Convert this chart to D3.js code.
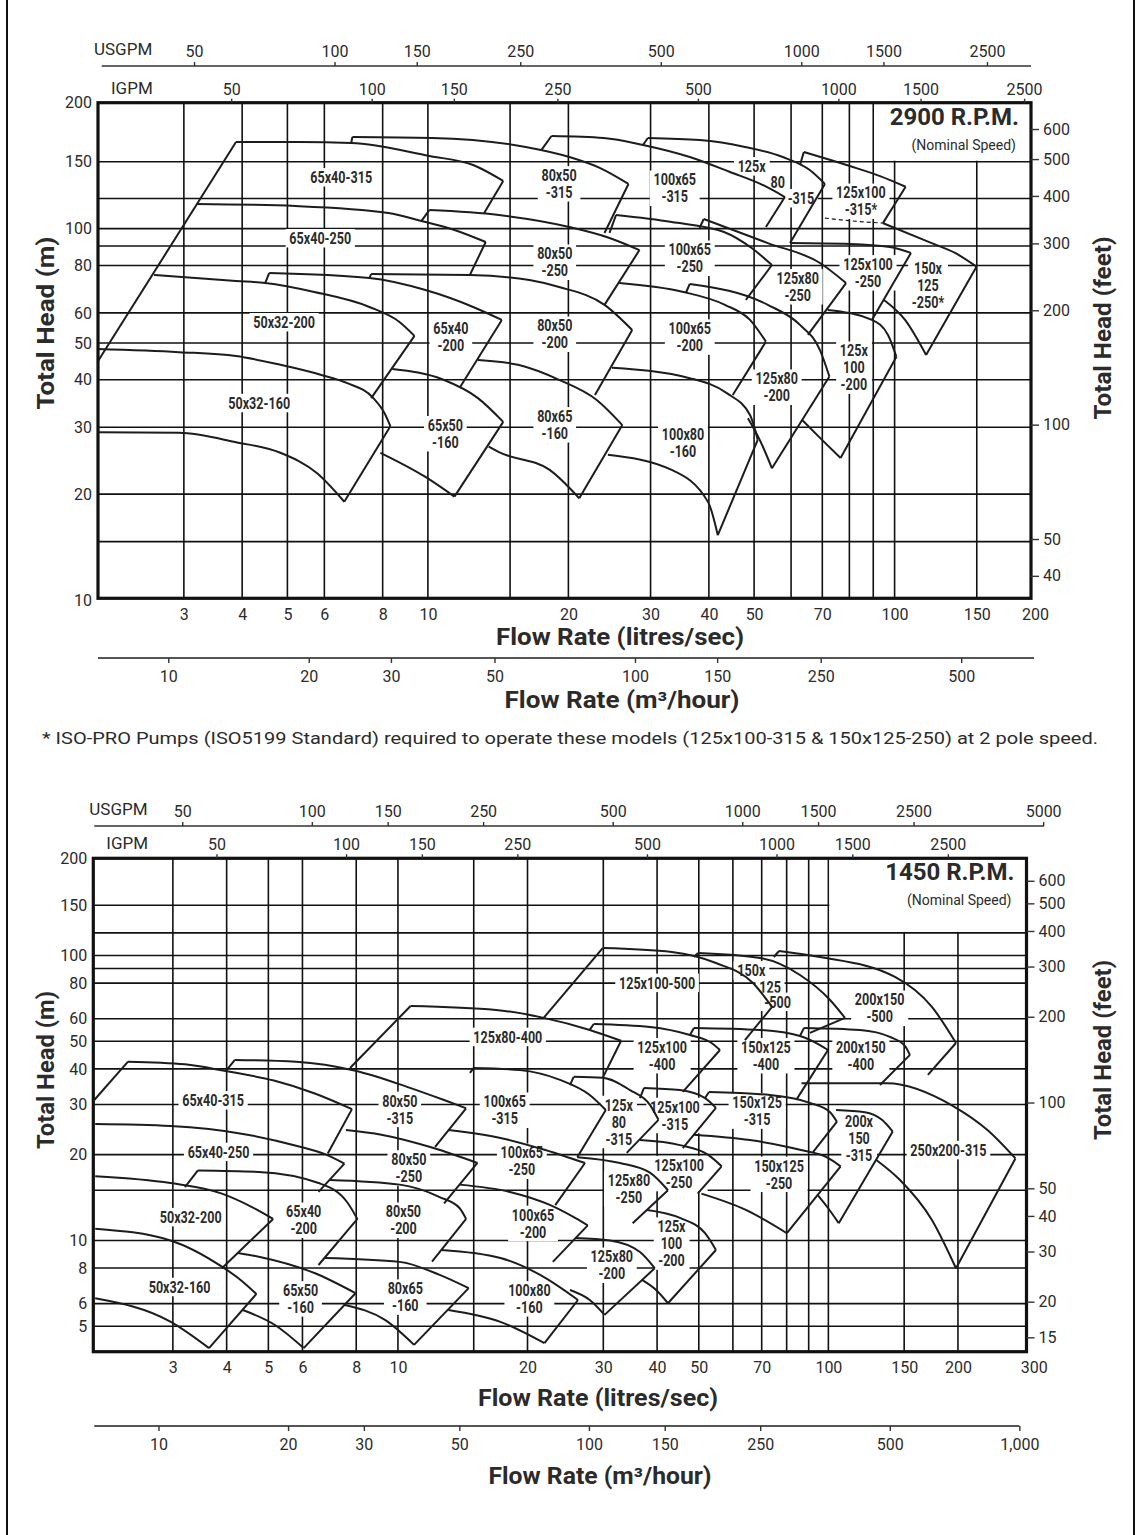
<!DOCTYPE html>
<html>
<head>
<meta charset="utf-8">
<script src="https://cdn.jsdelivr.net/npm/d3@7/dist/d3.min.js"></script>
<style>
  body { margin: 0; background: #fff; }
  svg text { font-family: Roboto, "Noto Sans", sans-serif; fill: #2b2b2b; }
</style>
</head>
<body>
<svg id="sheet" width="1142" height="1535"></svg>
<script>
// unit conversions to litres/sec and metres
const USGPM = 0.06309, IGPM = 0.07577, M3H = 1 / 3.6, FT = 0.3048;

// ---- axis values ----
let lsTicks1 = [3, 4, 5, 6, 8, 10, 20, 30, 40, 50, 70, 100, 150, 200];
let lsGrid1 = [3, 4, 5, 6, 8, 10, 15, 20, 30, 40, 50, 60, 70, 80, 90, 100, 150];
let lsTicks2 = [3, 4, 5, 6, 8, 10, 20, 30, 40, 50, 70, 100, 150, 200, 300];
let lsGrid2 = [3, 4, 5, 6, 8, 10, 15, 20, 30, 40, 50, 60, 70, 80, 90, 100, 150, 200];
let headTicks1 = [150, 100, 80, 60, 50, 40, 30, 20];
let headGrid1 = [150, 120, 100, 90, 80, 60, 50, 40, 30, 20, 15];
let headTicks2 = [150, 100, 80, 60, 50, 40, 30, 20, 10, 8, 6, 5];
let headGrid2 = [150, 120, 100, 90, 80, 60, 50, 40, 30, 20, 15, 10, 8, 6, 5];
let feetTicks1 = [600, 500, 400, 300, 200, 100, 50, 40];
let feetTicks2 = [600, 500, 400, 300, 200, 100, 50, 40, 30, 20, 15];
let usgpmTicks1 = [50, 100, 150, 250, 500, 1000, 1500, 2500];
let usgpmTicks2 = [50, 100, 150, 250, 500, 1000, 1500, 2500, 5000];
let igpmTicks = [50, 100, 150, 250, 500, 1000, 1500, 2500];
let m3hTicks1 = [10, 20, 30, 50, 100, 150, 250, 500];
let m3hTicks2 = [10, 20, 30, 50, 100, 150, 250, 500, 1000];

// ---- 2900 rpm pump envelopes: [litres/sec, metres] ----
let edgeLines1 = [
    [[1.96, 44.6], [3.88, 169]]
];
let pumps1 = [
    // 50x32-160
    { top: [[1.96, 48.2], [2.93, 47.3], [3.88, 46.2], [4.83, 43.8], [5.91, 41.2], [6.72, 39.2], [7.64, 35.8], [8.07, 32.7], [8.31, 30.2]],
      edge: [[6.62, 19.1]],
      bottom: [[1.96, 29.1], [2.93, 29.0], [3.88, 27.4], [4.83, 25.7], [5.79, 22.7], [6.62, 19.1]] },
    // 50x32-200
    { top: [[2.59, 75.5], [3.88, 72.8], [4.48, 71.9], [5.71, 68.1], [7.49, 62.2], [8.69, 56.8], [9.36, 52.2]],
      edge: [[7.56, 35.8]] },
    // 65x40-250
    { top: [[3.19, 116.1], [5.20, 114.7], [8.23, 109.9], [9.68, 104.7], [11.4, 99.2], [13.3, 92.2]],
      edge: [[12.3, 75.5]] },
    // 65x40-315
    { top: [[3.88, 169], [5.30, 169], [6.85, 168], [10.07, 155.3], [12.5, 147], [14.5, 133.5]],
      edge: [[13.2, 109.9]] },
    // 65x40-200
    { step: [4.48, 71.9], top: [[4.57, 76.4], [7.49, 74.1], [9.88, 68.9], [12.5, 62.2], [14.4, 57.5]],
      edge: [[11.7, 38.1]] },
    // 65x50-160
    { top: [[8.39, 42.7], [10.8, 40.0], [12.8, 35.8], [14.5, 31.0]],
      edge: [[11.4, 19.7]],
      bottom: [[7.91, 25.7], [9.88, 22.2], [11.4, 19.7]] },
    // 80x50-200
    { step: [7.49, 74.1], top: [[7.56, 75.9], [12.3, 75.5], [16.5, 73.2], [19.1, 70.2], [23.9, 63.0], [27.4, 54.1]],
      edge: [[22.8, 36.5]] },
    // 80x65-160
    { top: [[12.8, 45.1], [15.6, 43.8], [19.1, 40.0], [23.0, 35.4], [26.1, 30.4]],
      edge: [[21.1, 19.5]],
      bottom: [[13.5, 26.7], [14.2, 25.8], [18.2, 23.2], [21.1, 19.5]] },
    // 80x50-250
    { step: [9.68, 104.7], top: [[10.07, 111.9], [14.2, 108.6], [20.1, 101.0], [24.5, 94.5], [28.4, 87.8]],
      edge: [[23.9, 63.0]] },
    // 80x50-315
    { step: [6.85, 168], top: [[6.89, 174.2], [10.2, 173.2], [16.2, 164.0], [20.1, 154.3], [23.4, 144.3], [26.9, 131.1]],
      edge: [[23.9, 97.4]] },
    // 100x65-315
    { step: [17.5, 161.0], top: [[18.4, 175.3], [23.8, 173.2], [28.9, 166.0], [36.4, 154.3], [44.4, 140.9], [52.7, 129.5], [58.2, 121.1]],
      edge: [[53.0, 101.0]] },
    // 125x80-315
    { step: [28.9, 166.0], top: [[29.6, 173.2], [38.2, 171.0], [47.8, 164.0], [57.6, 154.3], [65.8, 142.6], [70.9, 131.1]],
      edge: [[59.7, 91.6]] },
    // 125x100-315
    { step: [62.7, 147.0], top: [[63.9, 159.1], [80.2, 146.1], [93.1, 137.5], [105.6, 128.9]],
      edge: [[94.4, 103.4]],
      dashed: [[70.9, 106.6], [80.2, 104.9], [94.4, 103.4]] },
    // 150x125-250
    { top: [[94.4, 103.4], [120.1, 91.6], [134.8, 86.3], [149.8, 79.4]],
      edge: [[116.8, 46.5]],
      bottom: [[94.9, 64.9], [105.3, 57.5], [116.8, 46.5]] },
    // 125x100-250
    { top: [[59.7, 91.6], [80.2, 91.1], [97.7, 89.4], [108.4, 86.3]],
      edge: [[89.4, 57.5]] },
    // 100x65-250
    { step: [24.5, 97.4], top: [[25.3, 108.6], [33.3, 104.1], [43.1, 98.0], [49.4, 88.9], [54.6, 80.2]],
      edge: [[48.0, 64.9]] },
    // 125x80-250
    { step: [38.2, 100.4], top: [[39.0, 106.0], [53.5, 91.6], [69.2, 81.2], [78.7, 71.9]],
      edge: [[65.2, 52.5]] },
    // 100x65-200
    { top: [[25.7, 71.9], [35.1, 68.2], [43.3, 63.0], [49.0, 57.5], [53.0, 50.4]],
      edge: [[45.0, 36.5]] },
    // 125x80-200
    { step: [35.7, 67.7], top: [[36.4, 71.5], [53.5, 63.0], [62.7, 55.8], [69.2, 47.9], [72.5, 40.8]],
      edge: [[54.6, 23.4]],
      bottom: [[48.5, 31.7], [51.4, 27.8], [54.6, 23.4]] },
    // 125x100-200
    { top: [[71.9, 61.1], [89.4, 57.5], [96.8, 52.5], [100.9, 46.0]],
      edge: [[76.6, 24.9]],
      bottom: [[63.3, 31.4], [69.9, 27.8], [76.6, 24.9]] },
    // 100x80-160
    { top: [[24.8, 43.0], [36.4, 40.4], [43.7, 36.9], [49.0, 32.3], [50.9, 27.8]],
      edge: [[41.8, 15.6]],
      bottom: [[24.3, 25.4], [33.2, 23.2], [39.9, 19.0], [41.8, 15.6]] }
];
let labels1 = [
    { text: ["65x40-315"], at: [6.52, 136.7] },
    { text: ["80x50", "-315"], at: [19.1, 131.4] },
    { text: ["100x65", "-315"], at: [33.8, 127.9] },
    { text: ["125x"], at: [49.4, 146.1] },
    { text: ["80"], at: [56.2, 132.6] },
    { text: ["-315"], at: [63.0, 120.4] },
    { text: ["125x100", "-315*"], at: [84.7, 118.2] },
    { text: ["65x40-250"], at: [5.88, 94.5] },
    { text: ["80x50", "-250"], at: [18.7, 81.7] },
    { text: ["100x65", "-250"], at: [36.4, 83.7] },
    { text: ["125x80", "-250"], at: [62.0, 70.4] },
    { text: ["125x100", "-250"], at: [87.7, 76.6] },
    { text: ["150x", "125", "-250*"], at: [117.9, 71.1] },
    { text: ["50x32-200"], at: [4.92, 56.8] },
    { text: ["65x40", "-200"], at: [11.2, 51.9] },
    { text: ["80x50", "-200"], at: [18.7, 52.8] },
    { text: ["100x65", "-200"], at: [36.4, 51.9] },
    { text: ["125x80", "-200"], at: [55.9, 38.3] },
    { text: ["125x", "100", "-200"], at: [81.8, 43.1] },
    { text: ["50x32-160"], at: [4.35, 34.8] },
    { text: ["65x50", "-160"], at: [10.9, 28.9] },
    { text: ["80x65", "-160"], at: [18.7, 30.5] },
    { text: ["100x80", "-160"], at: [35.2, 27.4] }
];

// ---- 1450 rpm pump envelopes ----
let edgeLines2 = [
    [[1.97, 31.1], [2.36, 42.4]],
    [[7.74, 40.3], [10.7, 66.5]],
    [[21.8, 60.4], [29.9, 106.2]]
];
let pumps2 = [
    // 65x40-315
    { top: [[2.36, 42.4], [3.20, 41.5], [3.98, 39.3], [5.15, 36.4], [6.41, 32.8], [7.82, 28.9]],
      edge: [[6.87, 20.2]] },
    // 80x50-315
    { step: [3.98, 39.3], top: [[4.18, 43.0], [5.80, 42.4], [7.97, 39.4], [10.5, 34.6], [12.8, 31.1], [14.4, 29.1]],
      edge: [[12.2, 21.3]] },
    // 65x40-250
    { top: [[1.98, 25.6], [2.96, 25.2], [4.40, 23.6], [5.80, 21.5], [6.81, 20.0], [7.51, 18.6]],
      edge: [[6.54, 14.8]] },
    // 50x32-200
    { top: [[1.98, 16.8], [2.96, 15.9], [3.90, 14.6], [4.58, 13.1], [5.13, 11.9]],
      edge: [[3.90, 7.99]] },
    // 65x40-200
    { step: [3.20, 15.4], top: [[3.43, 17.6], [4.75, 17.4], [6.54, 15.9], [7.6, 13.7], [8.05, 11.9]],
      edge: [[6.54, 8.20]] },
    // 50x32-160
    { top: [[1.98, 11.0], [2.96, 10.0], [3.90, 8.09], [4.31, 7.27], [4.69, 6.49]],
      edge: [[3.64, 4.19]],
      bottom: [[1.98, 6.27], [2.96, 5.19], [3.64, 4.19]] },
    // 80x50-250
    { top: [[7.57, 24.4], [9.15, 23.5], [12.1, 21.1], [15.3, 18.7]],
      edge: [[12.8, 13.5]] },
    // 80x50-200
    { top: [[6.95, 16.3], [10.1, 15.7], [12.5, 14.2], [13.9, 13.0], [14.4, 11.9]],
      edge: [[12.0, 8.43]] },
    // 65x50-160
    { top: [[4.25, 9.04], [4.75, 8.77], [6.42, 7.67], [7.97, 6.53]],
      edge: [[6.04, 4.19]],
      bottom: [[4.36, 5.70], [5.18, 5.05], [6.04, 4.19]] },
    // 80x65-160
    { top: [[6.75, 8.68], [10.1, 8.41], [12.5, 7.57], [14.6, 6.80]],
      edge: [[10.9, 4.30]],
      bottom: [[7.53, 5.94], [9.33, 5.26], [10.9, 4.30]] },
    // 100x80-160
    { top: [[12.6, 9.26], [17.3, 8.68], [21.4, 7.57], [26.2, 6.18]],
      edge: [[21.9, 4.36]],
      bottom: [[13.1, 5.70], [17.3, 5.18], [21.9, 4.36]] },
    // 100x65-315
    { step: [14.7, 38.7], top: [[15.0, 40.3], [19.2, 39.6], [23.8, 36.6], [27.9, 32.4], [30.4, 28.7]],
      edge: [[26.1, 19.6]] },
    // 125x80-400
    { top: [[10.7, 66.5], [16.9, 64.4], [21.8, 60.4], [27.9, 54.8], [33.0, 50.2]],
      edge: [[29.9, 37.2]] },
    // 125x100-500
    { top: [[29.9, 106.2], [43.3, 102.9], [54.8, 94.1], [66.8, 80.1], [74.0, 66.0]],
      edge: [[64.0, 50.5]] },
    // 150x125-500
    { step: [48.7, 98.8], top: [[49.8, 102.0], [69.4, 98.0], [85.9, 85.4], [100.9, 69.8], [109.3, 60.4]],
      edge: [[90.6, 53.5]] },
    // 200x150-500
    { step: [74.7, 98.8], top: [[76.8, 103.7], [95.6, 98.8], [142.8, 84.1], [174.0, 66.0], [197.9, 49.3]],
      edge: [[170.3, 38.1]] },
    // 125x100-400
    { step: [27.9, 54.8], top: [[28.5, 57.5], [38.5, 56.1], [47.7, 52.6], [53.1, 49.7], [56.0, 46.6]],
      edge: [[45.9, 33.2]] },
    // 150x125-400
    { step: [47.7, 52.6], top: [[48.7, 55.7], [69.4, 54.8], [85.9, 52.2], [95.6, 48.5], [99.8, 46.6]],
      edge: [[84.5, 31.4]] },
    // 200x150-400
    { step: [85.9, 52.2], top: [[87.8, 55.7], [118.4, 54.8], [139.0, 51.8], [150.7, 48.1], [154.7, 44.8]],
      edge: [[131.8, 35.1]] },
    // 125x80-315
    { step: [25.1, 35.1], top: [[25.6, 37.5], [29.9, 37.2], [34.6, 33.7], [38.5, 29.9], [40.3, 26.5]],
      edge: [[34.0, 20.3]] },
    // 125x100-315
    { step: [36.5, 31.6], top: [[37.3, 34.3], [45.2, 33.7], [51.7, 31.6], [54.8, 29.2]],
      edge: [[45.9, 21.1]] },
    // 150x125-315
    { step: [51.7, 31.6], top: [[52.8, 33.2], [73.2, 32.4], [90.6, 30.4], [100.9, 28.2], [104.7, 26.1]],
      edge: [[92.1, 20.4]] },
    // 200x150-315
    { top: [[104.2, 28.7], [121.6, 28.2], [133.2, 26.5], [141.1, 24.1]],
      edge: [[105.7, 11.5]],
      bottom: [[94.6, 14.4], [99.8, 13.0], [105.7, 11.5]] },
    // 250x200-315
    { top: [[86.6, 35.6], [136.8, 35.6], [195.8, 29.5], [234.2, 24.4], [272.0, 19.4]],
      edge: [[197.9, 7.99]],
      bottom: [[129.0, 19.2], [146.7, 16.3], [174.0, 11.8], [197.9, 7.99]] },
    // 100x65-250
    { top: [[13.1, 24.4], [17.3, 22.9], [21.9, 20.8], [25.8, 19.2], [27.2, 18.7]],
      edge: [[23.2, 13.3]] },
    // 125x80-250
    { top: [[26.1, 19.6], [32.8, 18.7], [38.5, 17.3], [42.4, 15.0]],
      edge: [[35.1, 11.5]] },
    // 125x100-250
    { top: [[36.5, 22.5], [45.2, 21.6], [52.5, 20.0], [56.5, 18.2]],
      edge: [[49.7, 14.6]] },
    // 150x125-250
    { top: [[48.7, 23.5], [65.7, 22.5], [85.9, 20.8], [99.8, 19.5], [106.8, 18.2]],
      edge: [[80.1, 10.6]],
      bottom: [[50.7, 14.6], [64.3, 12.8], [80.1, 10.6]] },
    // 100x65-200
    { top: [[13.9, 15.7], [18.2, 14.8], [22.6, 13.3], [25.8, 12.0], [27.6, 11.3]],
      edge: [[22.9, 8.41]] },
    // 125x80-200
    { top: [[25.8, 10.2], [31.1, 10.0], [36.5, 9.11], [39.5, 7.99]],
      edge: [[30.2, 5.48]],
      bottom: [[25.1, 6.70], [27.9, 6.18], [30.2, 5.48]] },
    // 125x100-200
    { top: [[37.9, 12.8], [45.2, 12.0], [51.7, 10.6], [54.8, 9.26]],
      edge: [[42.4, 6.02]],
      bottom: [[36.9, 7.27], [39.8, 6.70], [42.4, 6.02]] }
];
let labels2 = [
    { text: ["125x100-500"], at: [40.0, 80.3] },
    { text: ["150x"], at: [66.2, 88.9] },
    { text: ["125"], at: [73.2, 77.7] },
    { text: ["-500"], at: [76.2, 68.9] },
    { text: ["200x150", "-500"], at: [131.6, 65.4] },
    { text: ["125x80-400"], at: [18.0, 51.9] },
    { text: ["125x100", "-400"], at: [41.1, 44.6] },
    { text: ["150x125", "-400"], at: [71.6, 44.6] },
    { text: ["200x150", "-400"], at: [119.0, 44.6] },
    { text: ["65x40-315"], at: [3.72, 31.1] },
    { text: ["80x50", "-315"], at: [10.1, 28.9] },
    { text: ["100x65", "-315"], at: [17.7, 28.7] },
    { text: ["125x", "80", "-315"], at: [32.6, 26.1] },
    { text: ["125x100", "-315"], at: [44.0, 27.5] },
    { text: ["150x125", "-315"], at: [68.3, 28.5] },
    { text: ["200x", "150", "-315"], at: [117.8, 22.9] },
    { text: ["250x200-315"], at: [190.1, 20.8] },
    { text: ["65x40-250"], at: [3.83, 20.5] },
    { text: ["80x50", "-250"], at: [10.6, 18.0] },
    { text: ["100x65", "-250"], at: [19.4, 19.0] },
    { text: ["125x100", "-250"], at: [45.0, 17.2] },
    { text: ["150x125", "-250"], at: [76.8, 17.1] },
    { text: ["125x80", "-250"], at: [34.4, 15.2] },
    { text: ["50x32-200"], at: [3.30, 12.1] },
    { text: ["65x40", "-200"], at: [6.04, 11.8] },
    { text: ["80x50", "-200"], at: [10.3, 11.8] },
    { text: ["100x65", "-200"], at: [20.6, 11.5] },
    { text: ["125x", "100", "-200"], at: [43.2, 9.77] },
    { text: ["125x80", "-200"], at: [31.4, 8.20] },
    { text: ["50x32-160"], at: [3.11, 6.88] },
    { text: ["65x50", "-160"], at: [5.94, 6.25] },
    { text: ["80x65", "-160"], at: [10.4, 6.34] },
    { text: ["100x80", "-160"], at: [20.2, 6.25] }
];

let svg = d3.select("#sheet");

// page border
svg.append("line").attr("x1", 7).attr("x2", 7).attr("y1", 0).attr("y2", 1535)
    .attr("stroke", "#111").attr("stroke-width", 2);
svg.append("line").attr("x1", 1134).attr("x2", 1134).attr("y1", 0).attr("y2", 1535)
    .attr("stroke", "#111").attr("stroke-width", 2);

let chart1 = {
    x: d3.scaleLog().domain([1.964, 196]).range([98, 1031]),
    y: d3.scaleLog().domain([10.64, 214.5]).range([598.3, 102.7]),
    lsTicks: lsTicks1, lsGrid: lsGrid1, headTicks: headTicks1, headGrid: headGrid1,
    feetTicks: feetTicks1, usTicks: usgpmTicks1, igTicks: igpmTicks, m3Ticks: m3hTicks1,
    usExtent: [2.0, 196], m3Extent: [1.964, 199],
    box: [90, 150], rpm: "2900 R.P.M.",
    cornerTop: "200", cornerBottom: "10",
    usLineY: 66, m3LineY: 658, lsTitleY: 637, m3TitleY: 700, titleX: [620, 622],
    lsTitleLen: 248, m3TitleLen: 235, yTitleY: [323, 328], yTitleLen: [173, 183],
    edgeLines: edgeLines1, pumps: pumps1, labels: labels1
};
let chart2 = {
    x: d3.scaleLog().domain([1.96, 288.6]).range([93.3, 1026.5]),
    y: d3.scaleLog().domain([4.07, 219.3]).range([1351.7, 858.3]),
    lsTicks: lsTicks2, lsGrid: lsGrid2, headTicks: headTicks2, headGrid: headGrid2,
    feetTicks: feetTicks2, usTicks: usgpmTicks2, igTicks: igpmTicks, m3Ticks: m3hTicks2,
    usExtent: [1.97, 317], m3Extent: [1.97, 1000 * M3H],
    box: [100, 120], rpm: "1450 R.P.M.",
    cornerTop: "200", cornerBottom: null,
    usLineY: 826, m3LineY: 1426, lsTitleY: 1398, m3TitleY: 1476, titleX: [598, 600],
    lsTitleLen: 240, m3TitleLen: 223, yTitleY: [1070, 1050], yTitleLen: [158, 180],
    edgeLines: edgeLines2, pumps: pumps2, labels: labels2
};

function styleAxis(sel, size) {
    sel.attr("font-family", null).attr("font-size", null);
    sel.selectAll("text").style("font-size", size + "px").attr("fill", "#2b2b2b");
    sel.selectAll(".tick line").attr("stroke", "#333").attr("stroke-width", 1.4);
}

function drawChart(c) {
    let x = c.x, y = c.y;
    let [left, right] = x.range();
    let [bottom, top] = y.range();
    let g = svg.append("g");

    // grid
    g.append("g").selectAll("line").data(c.lsGrid).join("line")
        .attr("x1", d => x(d)).attr("x2", d => x(d))
        .attr("y1", top).attr("y2", bottom)
        .attr("stroke", "#111").attr("stroke-width", 1.6);
    g.append("g").selectAll("line").data(c.headGrid).join("line")
        .attr("x1", left).attr("x2", right)
        .attr("y1", d => y(d)).attr("y2", d => y(d))
        .attr("stroke", "#111").attr("stroke-width", 1.6);

    // blank corner for the speed label
    let bx = x(c.box[0]) + 1, by = y(c.box[1]) - 1;
    g.append("rect").attr("x", bx).attr("y", top).attr("width", right - bx).attr("height", by - top)
        .attr("fill", "#fff");
    g.append("text").attr("x", right - 12).attr("y", top + 22).attr("text-anchor", "end")
        .style("font-size", "24px").style("font-weight", 700).attr("fill", "#1a1a1a")
        .text(c.rpm);
    g.append("text").attr("x", right - 15).attr("y", top + 47).attr("text-anchor", "end")
        .style("font-size", "14px").text("(Nominal Speed)");

    // model labels with white backing
    c.labels.forEach(l => {
        let lg = g.append("g")
            .attr("transform", "translate(" + x(l.at[0]) + "," + y(l.at[1]) + ") scale(0.74,1)");
        let t = lg.append("text").attr("text-anchor", "middle")
            .style("font-size", "17px").style("font-weight", 700).attr("fill", "#1a1a1a");
        let n = l.text.length;
        l.text.forEach((s, i) => {
            t.append("tspan").attr("x", 0).attr("y", (i - (n - 1) / 2) * 17).attr("dy", "0.35em").text(s);
        });
        let bb = t.node().getBBox();
        lg.insert("rect", "text").attr("x", bb.x - 5).attr("y", bb.y + 1)
            .attr("width", bb.width + 10).attr("height", bb.height - 2).attr("fill", "#fff");
    });

    // pump envelopes
    let curved = d3.line().x(d => x(d[0])).y(d => y(d[1])).curve(d3.curveMonotoneX);
    let straight = d3.line().x(d => x(d[0])).y(d => y(d[1]));
    let pg = g.append("g").attr("fill", "none").attr("stroke", "#1c1c1c")
        .attr("stroke-width", 2).attr("stroke-linejoin", "round");
    c.edgeLines.forEach(e => pg.append("path").attr("d", straight(e)));
    c.pumps.forEach(p => {
        if (p.step) pg.append("path").attr("d", straight([p.step, p.top[0]]));
        pg.append("path").attr("d", curved(p.top));
        pg.append("path").attr("d", straight([p.top[p.top.length - 1]].concat(p.edge)));
        if (p.bottom) pg.append("path").attr("d", curved(p.bottom));
        if (p.dashed) pg.append("path").attr("d", curved(p.dashed)).attr("stroke-dasharray", "4,3")
            .attr("stroke-width", 1.2);
    });

    // frame
    g.append("rect").attr("x", left).attr("y", top).attr("width", right - left).attr("height", bottom - top)
        .attr("fill", "none").attr("stroke", "#111").attr("stroke-width", 3.2);

    // litres/sec labels under the frame
    let ls = g.append("g").attr("transform", "translate(0," + bottom + ")")
        .call(d3.axisBottom(x).tickValues(c.lsTicks).tickSize(0).tickPadding(10).tickFormat(d3.format("d")));
    ls.select(".domain").remove();
    styleAxis(ls, 16);

    // head in metres
    let hm = g.append("g").attr("transform", "translate(" + left + ",0)")
        .call(d3.axisLeft(y).tickValues(c.headTicks).tickSize(0).tickPadding(6).tickFormat(d3.format("d")));
    hm.select(".domain").remove();
    styleAxis(hm, 16);
    g.append("text").attr("x", left - 6).attr("y", top).attr("dy", "0.35em").attr("text-anchor", "end")
        .style("font-size", "16px").text(c.cornerTop);
    if (c.cornerBottom) {
        g.append("text").attr("x", left - 6).attr("y", bottom).attr("dy", "0.45em").attr("text-anchor", "end")
            .style("font-size", "16px").text(c.cornerBottom);
    }

    // head in feet
    let yFt = d3.scaleLog().domain(y.domain().map(d => d / FT)).range(y.range());
    let hf = g.append("g").attr("transform", "translate(" + right + ",0)")
        .call(d3.axisRight(yFt).tickValues(c.feetTicks).tickSize(8).tickPadding(4).tickFormat(d3.format("d")));
    hf.select(".domain").remove();
    styleAxis(hf, 16);

    // USGPM scale
    let xUs = d3.scaleLog().domain(x.domain().map(d => d / USGPM)).range(x.range());
    g.append("line").attr("x1", x(c.usExtent[0])).attr("x2", x(c.usExtent[1]))
        .attr("y1", c.usLineY).attr("y2", c.usLineY).attr("stroke", "#333").attr("stroke-width", 1.6);
    let us = g.append("g").attr("transform", "translate(0," + c.usLineY + ")")
        .call(d3.axisTop(xUs).tickValues(c.usTicks).tickSize(4).tickPadding(5).tickFormat(d3.format("d")));
    us.select(".domain").remove();
    styleAxis(us, 16);
    g.append("text").attr("x", left - 4).attr("y", c.usLineY - 11).style("font-size", "17px").text("USGPM");

    // IGPM scale on the frame top
    let xIg = d3.scaleLog().domain(x.domain().map(d => d / IGPM)).range(x.range());
    let ig = g.append("g").attr("transform", "translate(0," + top + ")")
        .call(d3.axisTop(xIg).tickValues(c.igTicks).tickSize(4).tickPadding(4).tickFormat(d3.format("d")));
    ig.select(".domain").remove();
    styleAxis(ig, 16);
    g.append("text").attr("x", left + 13).attr("y", top - 9).style("font-size", "17px").text("IGPM");

    // m3/hour scale
    let xM3 = d3.scaleLog().domain(x.domain().map(d => d / M3H)).range(x.range());
    g.append("line").attr("x1", x(c.m3Extent[0])).attr("x2", x(c.m3Extent[1]))
        .attr("y1", c.m3LineY).attr("y2", c.m3LineY).attr("stroke", "#555").attr("stroke-width", 1.8);
    let m3 = g.append("g").attr("transform", "translate(0," + c.m3LineY + ")")
        .call(d3.axisBottom(xM3).tickValues(c.m3Ticks).tickSize(5).tickPadding(8).tickFormat(d3.format(",")));
    m3.select(".domain").remove();
    styleAxis(m3, 16);

    // titles
    g.append("text").attr("x", c.titleX[0]).attr("y", c.lsTitleY).attr("dy", "0.35em")
        .attr("text-anchor", "middle").attr("textLength", c.lsTitleLen).attr("lengthAdjust", "spacingAndGlyphs")
        .style("font-size", "23px").style("font-weight", 700).attr("fill", "#1a1a1a")
        .text("Flow Rate (litres/sec)");
    g.append("text").attr("x", c.titleX[1]).attr("y", c.m3TitleY).attr("dy", "0.35em")
        .attr("text-anchor", "middle").attr("textLength", c.m3TitleLen).attr("lengthAdjust", "spacingAndGlyphs")
        .style("font-size", "23px").style("font-weight", 700).attr("fill", "#1a1a1a")
        .text("Flow Rate (m³/hour)");
    g.append("text").attr("transform", "translate(46," + c.yTitleY[0] + ") rotate(-90)")
        .attr("dy", "0.35em").attr("text-anchor", "middle")
        .attr("textLength", c.yTitleLen[0]).attr("lengthAdjust", "spacingAndGlyphs")
        .style("font-size", "23px").style("font-weight", 700).attr("fill", "#1a1a1a")
        .text("Total Head (m)");
    g.append("text").attr("transform", "translate(1103," + c.yTitleY[1] + ") rotate(-90)")
        .attr("dy", "0.35em").attr("text-anchor", "middle")
        .attr("textLength", c.yTitleLen[1]).attr("lengthAdjust", "spacingAndGlyphs")
        .style("font-size", "23px").style("font-weight", 700).attr("fill", "#1a1a1a")
        .text("Total Head (feet)");
}

drawChart(chart1);
drawChart(chart2);

svg.append("text").attr("x", 42).attr("y", 738).attr("dy", "0.35em")
    .attr("textLength", 1056).attr("lengthAdjust", "spacingAndGlyphs")
    .style("font-size", "17px").attr("fill", "#2b2b2b")
    .text("* ISO-PRO Pumps (ISO5199 Standard) required to operate these models (125x100-315 & 150x125-250) at 2 pole speed.");
</script>
</body>
</html>
